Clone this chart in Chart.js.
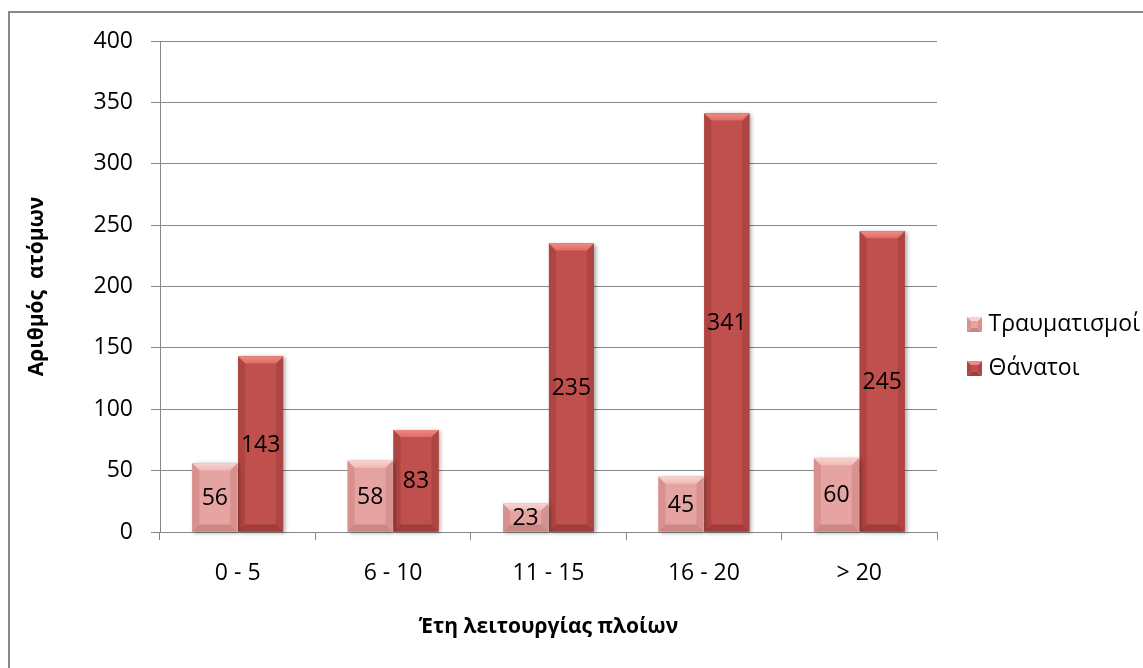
<!DOCTYPE html>
<html lang="el">
<head>
<meta charset="UTF-8" />
<title>Έτη λειτουργίας πλοίων</title>
<script src="https://cdn.jsdelivr.net/npm/chart.js"></script>
<style>
  html, body { margin: 0; padding: 0; background: #fff; overflow: hidden; }
  .frame { position: absolute; left: 8px; top: 11px; width: 1200px; height: 700px; border: 2px solid #878787; }
  #chart { position: absolute; left: 0; top: 0; }
</style>
</head>
<body>
<div class="frame"></div>
<canvas id="chart" width="1143" height="668"></canvas>
<script>
  // data
  const categories = ["0 - 5", "6 - 10", "11 - 15", "16 - 20", "> 20"];
  const injuries = [56, 58, 23, 45, 60];
  const deaths = [143, 83, 235, 341, 245];
  const seriesNames = ["Τραυματισμοί", "Θάνατοι"];
  const yMin = 0, yMax = 400, yStep = 50;
  const xTitle = "Έτη λειτουργίας πλοίων";
  const yTitle = "Αριθμός  ατόμων";

  const FONT = "'Open Sans', 'Noto Sans', sans-serif";
  const GRID = "#868686";
  const PLOT_RIGHT = 937;

  const palette = [
    { body: "#E5A3A1", lighter: "#F7D2D0", light: "#F0BAB8", side: "#D8918F", dark: "#CC8785" },
    { body: "#C0504D", lighter: "#F08A84", light: "#E06A65", side: "#AE4542", dark: "#A03D3A" }
  ];

  function poly(ctx, pts, fill) {
    ctx.beginPath();
    ctx.moveTo(pts[0][0], pts[0][1]);
    for (let i = 1; i < pts.length; i++) ctx.lineTo(pts[i][0], pts[i][1]);
    ctx.closePath();
    ctx.fillStyle = fill;
    ctx.fill();
  }

  // small bevelled square for the legend, square sits at the right end of the icon
  function legendIcon(pal) {
    const c = document.createElement("canvas");
    c.width = 29; c.height = 15;
    const g = c.getContext("2d");
    const l = 14, t = 0, s = 15, m = s / 2;
    poly(g, [[l, t], [l + s, t], [l + m, t + m]], pal.lighter);
    poly(g, [[l, t], [l + m, t + m], [l, t + s]], pal.side);
    poly(g, [[l + s, t], [l + m, t + m], [l + s, t + s]], pal.side);
    poly(g, [[l, t + s], [l + m, t + m], [l + s, t + s]], pal.dark);
    g.fillStyle = pal.body;
    g.fillRect(l + 4, t + 4, s - 8, s - 8);
    return c;
  }
  const icons = palette.map(legendIcon);

  const shadowPlugin = {
    id: "barShadow",
    beforeDatasetDraw(chart, args) {
      const ctx = chart.ctx;
      ctx.save();
      ctx.shadowColor = "rgba(0,0,0,0.35)";
      ctx.shadowBlur = 4;
      ctx.shadowOffsetX = 2;
      ctx.shadowOffsetY = 1;
      ctx.fillStyle = palette[args.index].body;
      args.meta.data.forEach(bar => {
        const p = bar.getProps(["x", "y", "base", "width"], true);
        ctx.fillRect(p.x - p.width / 2, Math.min(p.y, p.base), p.width, Math.abs(p.base - p.y));
      });
      ctx.restore();
    }
  };

  const bevelPlugin = {
    id: "bevel",
    afterDatasetDraw(chart, args) {
      const ctx = chart.ctx;
      const pal = palette[args.index];
      args.meta.data.forEach(bar => {
        const p = bar.getProps(["x", "y", "base", "width"], true);
        const l = p.x - p.width / 2, r = p.x + p.width / 2;
        const t = Math.min(p.y, p.base), b = Math.max(p.y, p.base);
        const e = Math.min(7, (b - t) / 2, p.width / 2);
        ctx.save();
        const g = ctx.createLinearGradient(0, t, 0, t + e);
        g.addColorStop(0, pal.lighter);
        g.addColorStop(1, pal.light);
        poly(ctx, [[l, t], [l + e, t + e], [l + e, b - e], [l, b]], pal.side);
        poly(ctx, [[r, t], [r - e, t + e], [r - e, b - e], [r, b]], pal.side);
        poly(ctx, [[l, b], [l + e, b - e], [r - e, b - e], [r, b]], pal.dark);
        poly(ctx, [[l, t], [r, t], [r - e, t + e], [l + e, t + e]], g);
        ctx.restore();
      });
    }
  };

  const valueLabels = {
    id: "valueLabels",
    afterDatasetsDraw(chart) {
      const ctx = chart.ctx;
      ctx.save();
      ctx.font = "23px " + FONT;
      ctx.fillStyle = "#000";
      ctx.textAlign = "center";
      ctx.textBaseline = "middle";
      chart.data.datasets.forEach((ds, i) => {
        chart.getDatasetMeta(i).data.forEach((bar, j) => {
          const p = bar.getProps(["x", "y", "base"], true);
          ctx.fillText(ds.data[j], p.x, (p.y + p.base) / 2 + 1);
        });
      });
      ctx.restore();
    }
  };

  const chart = new Chart(document.getElementById("chart"), {
    type: "bar",
    data: {
      labels: categories,
      datasets: [
        { label: seriesNames[0], data: injuries, backgroundColor: palette[0].body, categoryPercentage: 0.59, barPercentage: 0.98 },
        { label: seriesNames[1], data: deaths, backgroundColor: palette[1].body, categoryPercentage: 0.59, barPercentage: 0.98 }
      ]
    },
    options: {
      responsive: false,
      animation: false,
      devicePixelRatio: 1,
      layout: { padding: { top: 41, bottom: 16, left: 0, right: 0 } },
      plugins: {
        tooltip: { enabled: false },
        legend: {
          position: "right",
          fullSize: true,
          labels: {
            usePointStyle: true,
            pointStyleWidth: 19,
            boxHeight: 15,
            padding: 21,
            color: "#000",
            font: { family: FONT, size: 23 },
            generateLabels(chart) {
              const items = Chart.defaults.plugins.legend.labels.generateLabels(chart);
              items.forEach((it, i) => { it.pointStyle = icons[i]; });
              return items;
            }
          }
        }
      },
      scales: {
        x: {
          grid: { drawOnChartArea: false, tickLength: 8, color: GRID, offset: true },
          border: { color: GRID },
          ticks: { color: "#000", font: { family: FONT, size: 23 }, padding: 20 },
          title: { display: true, text: xTitle, color: "#000", font: { family: FONT, size: 21, weight: "bold" }, padding: { top: 0, bottom: 12 } },
          afterFit(s) { s.height = 120; }
        },
        y: {
          min: yMin,
          max: yMax,
          grid: { color: GRID, tickLength: 9 },
          border: { color: GRID },
          ticks: { stepSize: yStep, color: "#000", font: { family: FONT, size: 23 }, padding: 18 },
          title: { display: true, text: yTitle, color: "#000", font: { family: FONT, size: 21, weight: "bold" }, padding: { top: 24, bottom: 0 } },
          afterFit(s) { s.width = 160; }
        }
      }
    },
    plugins: [shadowPlugin, bevelPlugin, valueLabels]
  });

  // nudge the right padding so the plot ends where the reference's does
  // (the legend's trailing gap may then fall just past the canvas edge)
  const diff = PLOT_RIGHT - chart.chartArea.right;
  if (Math.abs(diff) > 0.5) {
    chart.options.layout.padding.right -= diff;
    chart.update();
  }
</script>
</body>
</html>
